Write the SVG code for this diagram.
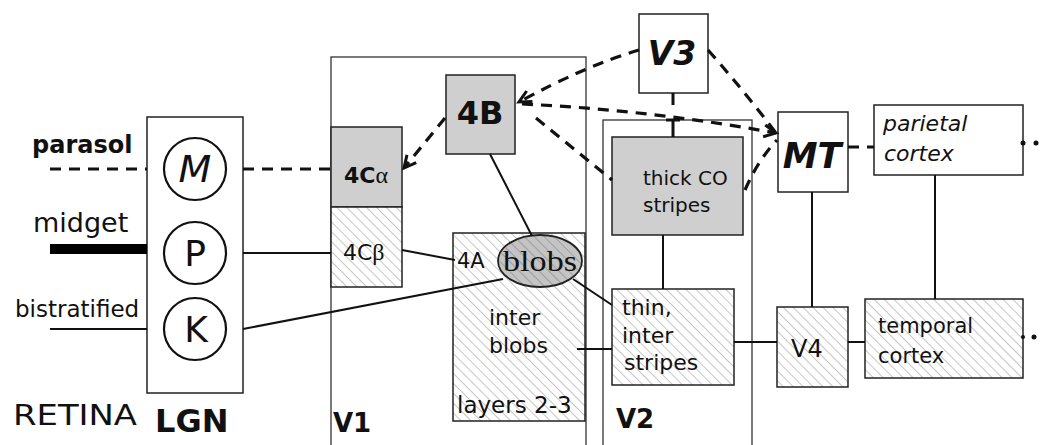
<svg xmlns="http://www.w3.org/2000/svg" width="1041" height="445" viewBox="0 0 1041 445">
<style>
text{font-family:"DejaVu Sans","Liberation Sans",sans-serif;fill:#111}
.box{stroke:#222;stroke-width:1.5}
.gray{fill:#cfcfcf}
.hat{fill:url(#hatch)}
.white{fill:#fff}
.area{fill:none;stroke:#333;stroke-width:1.3}
.ln{stroke:#111;stroke-width:2;fill:none}
.dash{stroke:#111;stroke-width:3.2;fill:none;stroke-dasharray:11 8}
.b{font-weight:bold}
.bi{font-weight:bold;font-style:italic}
</style>
<defs>
<pattern id="hatch" width="7" height="7" patternUnits="userSpaceOnUse" patternTransform="rotate(-45)">
<rect width="7" height="7" fill="#fff"/>
<line x1="0" y1="0" x2="0" y2="7" stroke="#a8a8a8" stroke-width="1.3"/>
</pattern>
<pattern id="hatchd" width="7" height="7" patternUnits="userSpaceOnUse" patternTransform="rotate(-45)">
<rect width="7" height="7" fill="#c4c4c4"/>
<line x1="0" y1="0" x2="0" y2="7" stroke="#8a8a8a" stroke-width="1.3"/>
</pattern>
<marker id="arr" markerUnits="userSpaceOnUse" markerWidth="16" markerHeight="16" refX="13" refY="7" orient="auto" viewBox="0 0 16 14">
<path d="M1,1 L13,7 L1,13" fill="none" stroke="#111" stroke-width="3"/>
</marker>
</defs>
<rect width="1041" height="445" fill="#fff"/>

<!-- area outlines -->
<g id="areas">
<rect class="area" x="331" y="57" width="255" height="400"/>
<rect class="area" x="603" y="120" width="149" height="340"/>
</g>

<!-- retina labels -->
<g id="retina">
<text x="32" y="153" font-size="24" class="b">parasol</text>
<text x="33" y="232" font-size="27">midget</text>
<text x="15" y="317" font-size="23">bistratified</text>
<text x="13" y="425" font-size="29" textLength="124" lengthAdjust="spacingAndGlyphs">RETINA</text>
</g>

<!-- LGN -->
<g id="lgn">
<rect class="box white" x="147" y="117" width="96" height="276"/>
<circle cx="195" cy="169" r="31" fill="#fff" stroke="#111" stroke-width="2.2"/>
<circle cx="195" cy="253" r="31" fill="#fff" stroke="#111" stroke-width="2.2"/>
<circle cx="195" cy="329" r="31" fill="#fff" stroke="#111" stroke-width="2.2"/>
<text x="195" y="182" font-size="38" font-style="italic" text-anchor="middle">M</text>
<text x="195" y="266" font-size="36" text-anchor="middle">P</text>
<text x="196" y="342" font-size="36" text-anchor="middle">K</text>
<text x="155" y="432" font-size="32" class="b">LGN</text>
</g>

<!-- V1 -->
<g id="v1">
<text x="333" y="432" font-size="26" class="b">V1</text>
</g>
<g id="n4Ca">
<rect class="box gray" x="331" y="127" width="71" height="80"/>
<text x="344" y="183" font-size="22" class="b">4C<tspan style="font-family:'Liberation Serif',serif" font-weight="normal" font-size="24">α</tspan></text>
</g>
<g id="n4Cb">
<rect class="box hat" x="331" y="207" width="71" height="80"/>
<text x="343" y="260" font-size="22">4C<tspan style="font-family:'Liberation Serif',serif" font-size="24">β</tspan></text>
</g>
<g id="n4B">
<rect class="box gray" x="446" y="75" width="69" height="79"/>
<text x="480" y="124" font-size="32" class="b" text-anchor="middle">4B</text>
</g>
<g id="layers23">
<rect class="box hat" x="453" y="233" width="132" height="188"/>
<text x="457" y="268" font-size="21">4A</text>
<text x="489" y="325" font-size="22">inter</text>
<text x="489" y="353" font-size="22">blobs</text>
<text x="457" y="413" font-size="23">layers 2-3</text>
</g>
<g id="blobs">
<ellipse cx="540" cy="261" rx="42" ry="26" fill="url(#hatchd)" stroke="#222" stroke-width="1.8"/>
<text x="503" y="271" font-size="29" textLength="74" lengthAdjust="spacingAndGlyphs" style="font-family:'Liberation Serif',serif">blobs</text>
</g>

<!-- V2 -->
<g id="v2">
<text x="616" y="428" font-size="26" class="b">V2</text>
</g>
<g id="thickCO">
<rect class="box gray" x="612" y="137" width="131" height="98"/>
<text x="643" y="185" font-size="20">thick CO</text>
<text x="643" y="212" font-size="20">stripes</text>
</g>
<g id="thin">
<rect class="box hat" x="612" y="289" width="122" height="96"/>
<text x="622" y="315" font-size="22">thin,</text>
<text x="622" y="343" font-size="22">inter</text>
<text x="624" y="370" font-size="22">stripes</text>
</g>

<!-- V3 -->
<g id="v3">
<rect class="box white" x="639" y="14" width="69" height="79"/>
<text x="672" y="65" font-size="33" class="bi" text-anchor="middle">V3</text>
</g>

<!-- MT -->
<g id="mt">
<rect class="box white" x="778" y="112" width="70" height="80"/>
<text x="812" y="168" font-size="35" class="bi" text-anchor="middle">MT</text>
</g>

<!-- V4 -->
<g id="v4">
<rect class="box hat" x="777" y="307" width="71" height="80"/>
<text x="791" y="357" font-size="24">V4</text>
</g>

<!-- parietal -->
<g id="parietal">
<rect class="box white" x="874" y="105" width="149" height="70" stroke-width="2"/>
<text x="883" y="131" font-size="22" font-style="italic">parietal</text>
<text x="884" y="161" font-size="22" font-style="italic">cortex</text>
</g>

<!-- temporal -->
<g id="temporal">
<rect class="box hat" x="865" y="299" width="158" height="79" stroke-width="2"/>
<text x="878" y="333" font-size="21">temporal</text>
<text x="878" y="363" font-size="21">cortex</text>
</g>

<!-- connectors -->
<g id="connectors">
<line class="dash" x1="50" y1="169" x2="147" y2="169"/>
<line class="dash" x1="243" y1="169" x2="331" y2="169"/>
<line x1="50" y1="249" x2="147" y2="249" stroke="#000" stroke-width="10"/>
<line class="ln" x1="50" y1="329" x2="147" y2="329" stroke-width="1.6"/>
<line class="ln" x1="243" y1="253" x2="331" y2="253"/>
<line class="ln" x1="243" y1="329" x2="503" y2="279"/>
<line class="ln" x1="402" y1="250" x2="455" y2="260"/>
<line class="ln" x1="490" y1="154" x2="532" y2="236"/>
<line class="ln" x1="573" y1="279" x2="612" y2="305"/>
<line class="ln" x1="577" y1="349" x2="612" y2="349" stroke-width="1.6"/>
<line class="ln" x1="663" y1="235" x2="663" y2="289"/>
<line class="ln" x1="734" y1="342" x2="777" y2="342"/>
<line class="ln" x1="848" y1="342" x2="865" y2="342" stroke-width="3"/>
<line class="ln" x1="812" y1="192" x2="812" y2="307"/>
<line class="ln" x1="935" y1="175" x2="935" y2="299"/>
<path class="dash" d="M445,118 L404,168" marker-end="url(#arr)"/>
<path class="dash" d="M639,50 Q585,66 519,102" marker-end="url(#arr)"/>
<path class="dash" d="M522,104 Q650,110 776,133" marker-end="url(#arr)"/>
<path class="dash" d="M536,118 L612,180"/>
<path class="dash" d="M708,50 Q745,92 776,133"/>
<path class="dash" d="M745,190 Q758,160 777,140"/>
<path class="dash" d="M848,147 L874,147"/>
<path d="M673,93 L673,137" stroke="#111" stroke-width="3" stroke-dasharray="12 14 20" fill="none"/>
<line x1="666" y1="120" x2="680" y2="120" stroke="#111" stroke-width="3"/>
<circle cx="1023" cy="143" r="2.5" fill="#111"/>
<circle cx="1036" cy="143" r="2.5" fill="#111"/>
<circle cx="1023" cy="337" r="2" fill="#111"/>
<circle cx="1034" cy="337" r="2.5" fill="#111"/>
</g>
</svg>
